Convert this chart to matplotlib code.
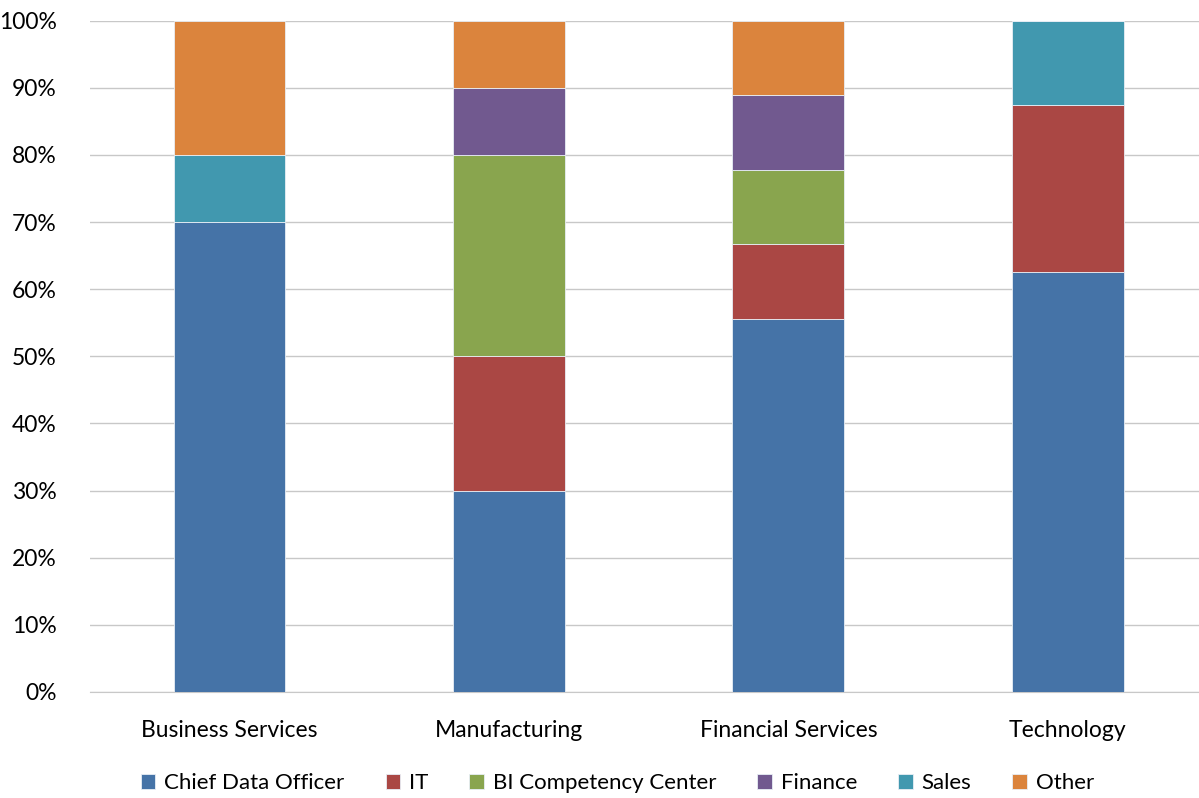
import numpy as np
import matplotlib.pyplot as plt
from matplotlib.ticker import PercentFormatter

plt.rcParams['font.family'] = ['Lato', 'DejaVu Sans']

# Share of respondents (%) by function, per industry
industries = ['Business Services', 'Manufacturing', 'Financial Services', 'Technology']
functions = ['Chief Data Officer', 'IT', 'BI Competency Center', 'Finance', 'Sales', 'Other']

cdo = [70.0, 30.0, 55.6, 62.5]
it = [0.0, 20.0, 11.1, 25.0]
bicc = [0.0, 30.0, 11.1, 0.0]
finance = [0.0, 10.0, 11.1, 0.0]
sales = [10.0, 0.0, 0.0, 12.5]
other = [20.0, 10.0, 11.1, 0.0]

colors = ['#4573A7', '#AA4744', '#89A54E', '#71598F', '#4198AF', '#DB843D']

fig = plt.figure(figsize=(11.99, 7.98), dpi=100)
ax = fig.add_axes([0.075, 0.133, 0.932, 0.841])

x = np.arange(len(industries))
bottom = np.zeros(len(industries))
for name, vals, col in zip(functions, [cdo, it, bicc, finance, sales, other], colors):
    vals = np.array(vals)
    ax.bar(x, vals, width=0.4, bottom=bottom, color=col, label=name,
           edgecolor='#e8eef5', linewidth=0.6, zorder=3)
    bottom += vals

ax.set_xlim(-0.5, 3.5)
ax.set_ylim(0, 100)
ax.set_yticks(np.arange(0, 101, 10))
ax.yaxis.set_major_formatter(PercentFormatter(decimals=0))
ax.set_xticks(x)
ax.set_xticklabels(industries)
ax.tick_params(axis='both', length=0, labelsize=16.5, colors='black')
ax.tick_params(axis='x', pad=20)
ax.tick_params(axis='y', pad=24)
ax.grid(axis='y', color='#c8c8c8', linewidth=1, zorder=0)
for s in ['top', 'right', 'left']:
    ax.spines[s].set_visible(False)
ax.spines['bottom'].set_color('#c8c8c8')

ax.legend(loc='center', bbox_to_anchor=(0.472, -0.136), ncol=6, frameon=False,
          fontsize=16, handlelength=0.65, handleheight=0.65, handletextpad=0.4,
          columnspacing=1.85, borderpad=0)

fig.savefig('out.png', dpi=100)
